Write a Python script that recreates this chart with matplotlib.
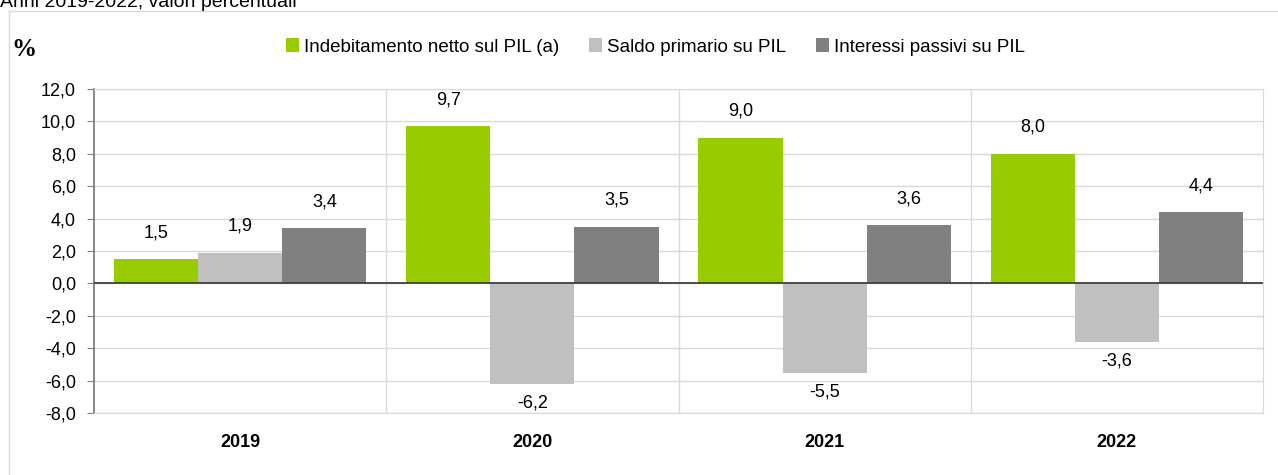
import matplotlib.pyplot as plt
from matplotlib.lines import Line2D

# Dati (valori percentuali)
anni = ['2019', '2020', '2021', '2022']
indebitamento = [1.5, 9.7, 9.0, 8.0]
saldo_primario = [1.9, -6.2, -5.5, -3.6]
interessi = [3.4, 3.5, 3.6, 4.4]
serie_nomi = ['Indebitamento netto sul PIL (a)', 'Saldo primario su PIL', 'Interessi passivi su PIL']
colori = ['#99cc00', '#c0c0c0', '#808080']
y_ticks = [-8, -6, -4, -2, 0, 2, 4, 6, 8, 10, 12]

plt.rcParams['font.family'] = ['Liberation Sans', 'DejaVu Sans']

fig = plt.figure(figsize=(12.78, 4.75), dpi=100)
ax = fig.add_axes([94 / 1278, 1 - 413 / 475, (1263 - 94) / 1278, (413 - 89) / 475])

# bordo esterno del grafico (solo sinistra e alto visibili)
fig.add_artist(Line2D([9 / 1278, 9 / 1278], [0, 1 - 11 / 475], color='#d9d9d9', lw=1, transform=fig.transFigure))
fig.add_artist(Line2D([9 / 1278, 1], [1 - 11 / 475, 1 - 11 / 475], color='#d9d9d9', lw=1, transform=fig.transFigure))

# titolo tagliato in alto
fig.text(0.0, 1 - 7 / 475, 'Anni 2019-2022, valori percentuali', fontsize=14, va='baseline', ha='left')

larghezza = 0.288
x = list(range(len(anni)))
tutte = [indebitamento, saldo_primario, interessi]

for k, (valori, col) in enumerate(zip(tutte, colori)):
    pos = [xi + (k - 1) * larghezza for xi in x]
    ax.bar(pos, valori, width=larghezza, color=col, zorder=3, label=serie_nomi[k])
    for p, v in zip(pos, valori):
        testo = f'{v:.1f}'.replace('.', ',')
        if v >= 0:
            ax.annotate(testo, (p, v), xytext=(0, 13), textcoords='offset points',
                        ha='center', va='bottom', fontsize=13)
        else:
            ax.annotate(testo, (p, v), xytext=(0, -8), textcoords='offset points',
                        ha='center', va='top', fontsize=13)

ax.set_xlim(-0.5, len(anni) - 0.5)
ax.set_ylim(-8, 12)
ax.set_yticks(y_ticks)
ax.set_yticklabels([f'{t:.1f}'.replace('.', ',') for t in y_ticks], fontsize=13)
ax.tick_params(axis='y', direction='out', length=5, color='#808080', pad=8)

ax.set_xticks(x)
ax.set_xticklabels(anni, fontsize=13, fontweight='bold')
ax.tick_params(axis='x', length=0, pad=15)

# griglia
ax.yaxis.grid(True, color='#d9d9d9', lw=1, zorder=0)
for sep in [0.5, 1.5, 2.5]:
    ax.axvline(sep, color='#d9d9d9', lw=1, zorder=0)
ax.axhline(0, color='#404040', lw=1.3, zorder=4)

for lato in ['top', 'right', 'bottom']:
    ax.spines[lato].set_color('#d9d9d9')
ax.spines['left'].set_color('#808080')
ax.spines['left'].set_linewidth(1.3)

fig.text(11 / 1278, 1 - 49 / 475, '%', fontsize=18, fontweight='bold',
         family=['Liberation Serif', 'DejaVu Serif'], va='center', ha='left')

fig.legend(loc='center', bbox_to_anchor=(0.513, 1 - 47 / 475), ncol=3, frameon=False,
           fontsize=13.5, handlelength=0.7, handleheight=0.7, handletextpad=0.25,
           columnspacing=1.6)

fig.savefig('out.png', dpi=100)
